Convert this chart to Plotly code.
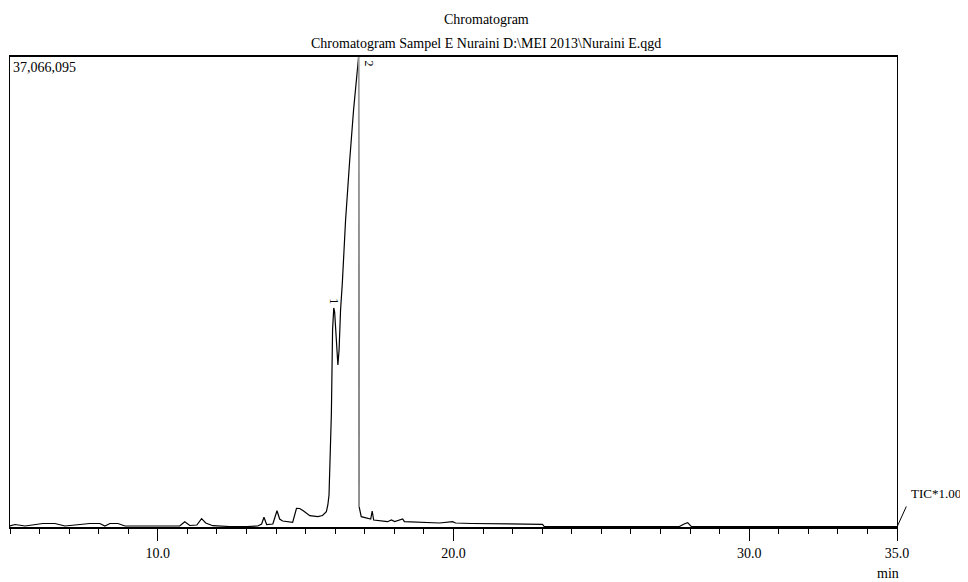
import plotly.graph_objects as go

# Retention time (min) and TIC intensity
time_min = [5.00, 5.17, 5.51, 6.11, 6.52, 6.86, 7.70, 8.04, 8.21, 8.38, 8.65, 8.89,
            10.74, 10.91, 11.08, 11.32, 11.48, 11.62, 11.86, 12.43, 13.01, 13.38,
            13.51, 13.59, 13.68, 13.89, 14.03, 14.12, 14.22, 14.56, 14.69, 14.80,
            14.93, 15.14, 15.41, 15.57, 15.70, 15.75, 15.79, 15.81, 15.87, 15.91,
            15.95, 15.98, 16.01, 16.05, 16.09, 16.13, 16.18, 16.24, 16.35, 16.49,
            16.62, 16.79, 16.81, 16.88, 17.05, 17.20, 17.25, 17.30, 17.77, 17.90,
            18.01, 18.28, 18.34, 18.92, 19.53, 19.97, 20.07, 20.61, 21.55, 23.01,
            23.07, 27.64, 27.80, 27.92, 28.04, 28.31, 35.00]
intensity = [79000, 197000, 79000, 276000, 276000, 79000, 276000, 276000, 79000,
             276000, 276000, 79000,
             79000, 418000, 118000, 158000, 655000, 315000, 103000, 39000, 39000, 79000,
             237000, 765000, 197000, 237000, 1285000, 631000, 473000, 371000, 1475000, 1459000,
             1262000, 891000, 812000, 907000, 1207000, 1735000, 2524000, 4495000, 8990000, 15536000,
             17271000, 16956000, 15500000, 13565000, 12776000, 13959000, 17113000, 19243000, 24211000, 28943000,
             32886000, 37066095, 1577000, 812000, 686000, 631000, 1262000, 552000, 418000, 552000,
             434000, 631000, 418000, 371000, 315000, 418000, 315000, 276000, 237000, 213000,
             39000, 39000, 237000, 339000, 55000, 39000, 39000]

y_max = 37066095
peak_labels = ["1", "2"]
peak_times = [15.95, 16.79]
peak_heights = [17271000, 37066095]
drop_times = [16.79, 16.81]
drop_values = [37066095, 1577000]

major_ticks = [10.0, 20.0, 30.0, 35.0]
major_text = ["10.0", "20.0", "30.0", "35.0"]

FONT = "Liberation Serif"

fig = go.Figure()
fig.add_trace(go.Scatter(x=time_min, y=intensity, mode="lines",
                         line=dict(color="black", width=1.2), hoverinfo="skip",
                         showlegend=False))
fig.add_trace(go.Scatter(x=drop_times, y=drop_values, mode="lines",
                         line=dict(color="#9a9a9a", width=1.4), hoverinfo="skip",
                         showlegend=False))

annotations = [
    dict(text="Chromatogram",
         xref="paper", yref="paper", x=0.537, y=1.0, yshift=28, xanchor="center", yanchor="bottom",
         showarrow=False, font=dict(family=FONT, size=14, color="black")),
    dict(text="Chromatogram Sampel E Nuraini D:\\MEI 2013\\Nuraini E.qgd",
         xref="paper", yref="paper", x=0.537, y=1.0, yshift=4, xanchor="center", yanchor="bottom",
         showarrow=False, font=dict(family=FONT, size=14, color="black")),
    dict(text="37,066,095", xref="paper", yref="paper", x=0.0, y=1.0, xshift=1, yshift=-1,
         xanchor="left", yanchor="top", showarrow=False,
         font=dict(family=FONT, size=14, color="black")),
    dict(text="TIC*1.00", xref="paper", yref="paper", x=1.0, y=0.0, xshift=12, yshift=24,
         xanchor="left", yanchor="bottom", showarrow=False,
         font=dict(family=FONT, size=13, color="black")),
    dict(text="min", xref="paper", yref="paper", x=1.0, y=0.0, xshift=-9, yshift=-37,
         xanchor="center", yanchor="top", showarrow=False,
         font=dict(family=FONT, size=14, color="black")),
]
annotations.append(dict(text=peak_labels[0], x=peak_times[0], y=peak_heights[0], xref="x", yref="y",
                        yshift=2, textangle=90, showarrow=False, xanchor="center", yanchor="bottom",
                        font=dict(family=FONT, size=12, color="black")))
annotations.append(dict(text=peak_labels[1], x=peak_times[1], y=peak_heights[1], xref="x", yref="y",
                        xshift=10, yshift=-1, textangle=90, showarrow=False, xanchor="center",
                        yanchor="top", font=dict(family=FONT, size=12, color="black")))

fig.update_layout(
    width=960, height=574,
    margin=dict(l=2, r=71, t=49, b=55),
    paper_bgcolor="white", plot_bgcolor="white",
    annotations=annotations,
    xaxis=dict(range=[5, 35], showgrid=False, zeroline=False,
               showline=True, linecolor="black", linewidth=2, mirror=True,
               tickmode="array", tickvals=major_ticks, ticktext=major_text,
               ticks="outside", ticklen=12, tickwidth=1, tickcolor="black",
               minor=dict(tickmode="linear", tick0=5, dtick=1, ticks="outside",
                          ticklen=5, tickwidth=1, tickcolor="black", showgrid=False),
               tickfont=dict(family=FONT, size=14, color="black")),
    yaxis=dict(range=[0, y_max], showgrid=False, zeroline=False,
               showline=True, linecolor="black", linewidth=1, mirror=True,
               showticklabels=False, ticks=""),
)

# leader line from the axis corner to the TIC label
fig.add_annotation(xref="paper", yref="paper", x=1.0, y=0.0, ax=10, ay=-22,
                   axref="pixel", ayref="pixel", showarrow=True, arrowhead=0,
                   arrowwidth=1, arrowcolor="black", text="")

fig.write_html("out.html")
